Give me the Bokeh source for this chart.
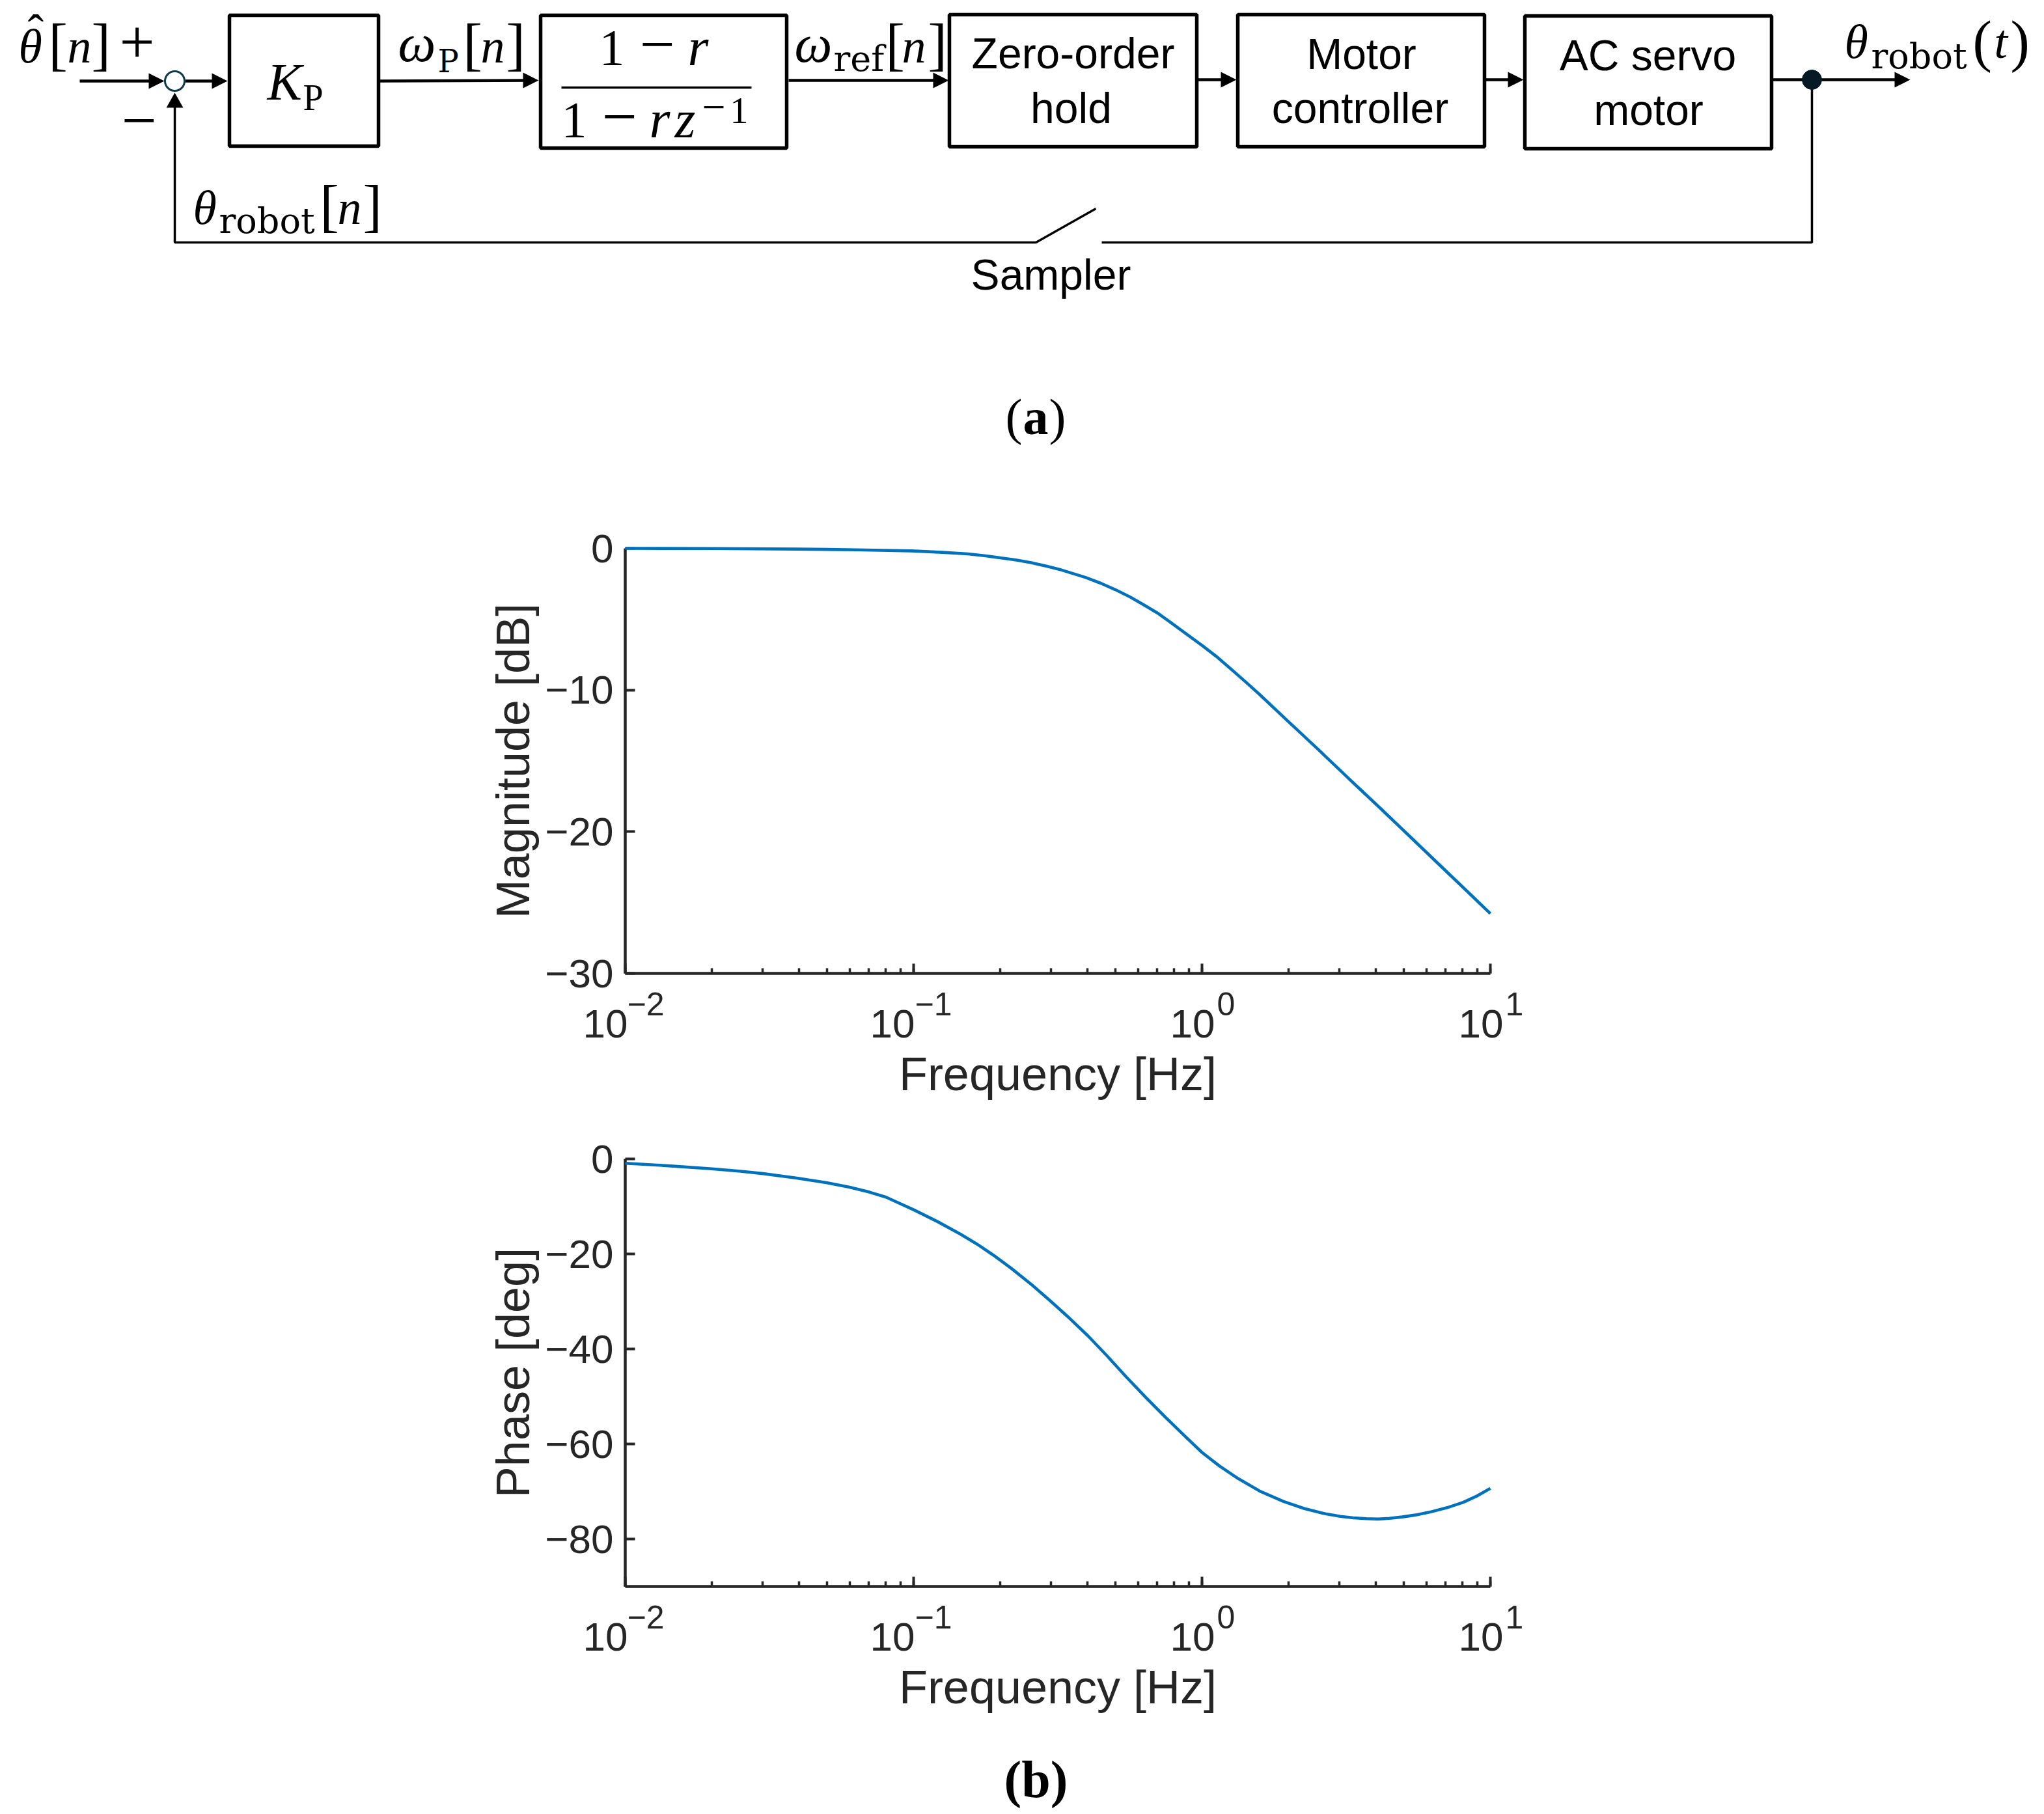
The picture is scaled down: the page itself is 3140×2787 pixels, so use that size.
from bokeh.core.properties import value
from bokeh.embed import file_html
from bokeh.layouts import column
from bokeh.models import ColumnDataSource, FixedTicker, Range1d
from bokeh.plotting import figure
from bokeh.resources import INLINE
import numpy as np

# ---------- Bode data ----------
mag_log10_hz = [-2.0, -1.7, -1.4, -1.2, -1.007, -0.9, -0.812, -0.75, -0.696, -0.65, -0.595, -0.54, -0.488, -0.404,
                -0.35, -0.300, -0.25, -0.203, -0.15, -0.100, -0.05, 0.001, 0.05, 0.095, 0.15, 0.198, 0.302, 0.406,
                0.509, 0.613, 0.717, 0.820, 0.911, 1.0]
mag_db = [0.0, -0.01, -0.05, -0.10, -0.18, -0.28, -0.39, -0.53, -0.68, -0.80, -1.00, -1.25, -1.52, -2.05,
          -2.47, -2.92, -3.42, -3.97, -4.62, -5.36, -6.10, -6.86, -7.63, -8.42, -9.40, -10.28, -12.27, -14.25,
          -16.25, -18.24, -20.26, -22.27, -24.04, -25.78]
phase_log10_hz = [-2.0, -1.85, -1.700, -1.6, -1.522, -1.401, -1.303, -1.222, -1.153, -1.096, -1.0, -0.917, -0.836,
                  -0.781, -0.72, -0.660, -0.59, -0.527, -0.46, -0.394, -0.33, -0.261, -0.195, -0.128, -0.06, 0.0,
                  0.06, 0.126, 0.2, 0.283, 0.355, 0.428, 0.48, 0.525, 0.57, 0.610, 0.65, 0.694, 0.74,
                  0.791, 0.85, 0.906, 0.955, 1.0]
phase_deg = [-0.92, -1.45, -2.10, -2.6, -3.10, -4.08, -5.00, -5.95, -7.00, -8.05, -10.7, -13.2, -15.9,
             -17.9, -20.4, -23.1, -26.5, -29.84, -33.5, -37.33, -41.4, -45.99, -50.2, -54.29, -58.3, -61.78,
             -64.6, -67.3, -69.9, -72.1, -73.6, -74.7, -75.25, -75.55, -75.72, -75.8, -75.65, -75.36, -74.95,
             -74.33, -73.4, -72.27, -70.9, -69.34]
x_tick_hz = [0.01, 0.1, 1, 10]
x_tick_exponents = ["\u22122", "\u22121", "0", "1"]
mag_ticks = [0, -10, -20, -30]
phase_ticks = [0, -20, -40, -60, -80]

W = 3136
LEFT = 960
RIGHT = 847
SANS = "Liberation Sans"
SERIF = "Liberation Serif"
DARK = "#262626"
BLUE = "#0072BD"
# Bokeh centres "alphabetic" text on its anchor: distance, in em, from that anchor to the real baseline
BASELINE_SHIFT = {SANS: 0.36, SERIF: 0.335, "DejaVu Serif": 0.35}


def bode(height, top, bottom, xs, ys, ylim, yticks, ylabel):
    p = figure(width=W, height=height, x_axis_type="log", output_backend="svg", toolbar_location=None,
               x_range=Range1d(0.01, 10), y_range=Range1d(*ylim),
               min_border_left=LEFT, min_border_right=RIGHT, min_border_top=top, min_border_bottom=bottom,
               x_axis_label="Frequency [Hz]", y_axis_label=ylabel)
    p.frame_align = False
    p.outline_line_color = None
    p.grid.visible = False
    p.background_fill_color = None
    p.border_fill_color = None
    for ax in (p.xaxis[0], p.yaxis[0]):
        ax.axis_line_color = DARK
        ax.axis_line_width = 4.5
        ax.major_tick_line_color = DARK
        ax.major_tick_line_width = 4
        ax.minor_tick_line_color = DARK
        ax.minor_tick_line_width = 3.5
        ax.major_tick_in = 15
        ax.major_tick_out = 0
        ax.minor_tick_in = 8
        ax.minor_tick_out = 0
        ax.axis_label_text_font = SANS
        ax.axis_label_text_font_size = "72px"
        ax.axis_label_text_font_style = "normal"
        ax.axis_label_text_color = DARK
        ax.major_label_text_font = SANS
        ax.major_label_text_color = DARK
    p.xaxis[0].major_label_text_font_size = "1px"
    p.xaxis[0].major_label_text_color = None
    p.xaxis[0].major_label_standoff = 0
    p.xaxis[0].axis_label_standoff = 114
    p.yaxis[0].ticker = FixedTicker(ticks=yticks)
    p.yaxis[0].major_label_overrides = {t: str(t).replace("-", "\u2212") for t in yticks}
    p.yaxis[0].major_label_text_font_size = "62px"
    p.yaxis[0].major_label_standoff = 18
    p.yaxis[0].axis_label_standoff = 6

    base_src = ColumnDataSource(dict(x=x_tick_hz, y=[ylim[0]] * 4, t=["10"] * 4, dx=[4, 2, 20, 20]))
    p.text(x="x", y="y", text="t", x_offset="dx", y_offset=77, source=base_src, text_align="right",
           text_baseline="alphabetic", text_font=value(SANS), text_font_size="62px", text_color=DARK, level="annotation")
    exp_src = ColumnDataSource(dict(x=x_tick_hz, y=[ylim[0]] * 4, t=x_tick_exponents, dx=[3, 2, 23, 23]))
    p.text(x="x", y="y", text="t", x_offset="dx", y_offset=47, source=exp_src, text_align="left",
           text_baseline="alphabetic", text_font=value(SANS), text_font_size="50px", text_color=DARK, level="annotation")
    p.line(10 ** np.array(xs), ys, line_color=BLUE, line_width=4.6, level="annotation")
    return p


def canvas(y0, y1):
    p = figure(width=W, height=y1 - y0, output_backend="svg", toolbar_location=None,
               x_range=Range1d(0, W), y_range=Range1d(y1, y0), min_border=0)
    p.frame_align = False
    p.axis.visible = False
    p.grid.visible = False
    p.outline_line_color = None
    p.background_fill_color = None
    p.border_fill_color = None
    return p


# ---------- block diagram ----------
d = canvas(0, 760)


def txt(p, s, x, y, size, font=SERIF, style="normal", align="left"):
    p.text([x], [y - BASELINE_SHIFT[font] * size], text=[s], text_font=value(font), text_font_size=f"{size}px",
           text_font_style=style, text_align=align, text_baseline="alphabetic", text_color="black", level="annotation")


boxes = [(352, 581, 23, 224), (830, 1208, 23, 227), (1458, 1838, 22, 225), (1901, 2280, 22, 225), (2342, 2721, 24, 228)]
d.quad(left=[b[0] for b in boxes], right=[b[1] for b in boxes], top=[b[2] for b in boxes], bottom=[b[3] for b in boxes],
       fill_color=None, line_color="black", line_width=5.5, level="annotation")

wires = [
    ([122, 240], [124, 124]), ([284, 335], [124, 124]), ([583, 815], [124, 123]), ([1211, 1445], [123, 123]),
    ([1840, 1887], [122, 122]), ([2282, 2328], [122, 122]), ([2723, 2920], [122, 122]),
    ([2783, 2783, 1692], [122, 372, 372]), ([1683, 1591, 268, 268], [320, 372, 372, 160]),
    ([862, 1154], [134, 134]),
]
d.multi_line([w[0] for w in wires[:7]], [w[1] for w in wires[:7]], line_color="black", line_width=4.5, level="annotation")
d.multi_line([w[0] for w in wires[7:]], [w[1] for w in wires[7:]], line_color="black", line_width=3.5, level="annotation")

heads = [(252, 124), (349, 124), (827, 123), (1457, 123), (1899, 122), (2340, 122), (2934, 122)]
d.patches([[x - 24, x, x - 24] for x, y in heads], [[y - 12, y, y + 12] for x, y in heads], fill_color="black", line_color=None, level="annotation")
d.patch([255, 268, 281], [165, 142, 165], fill_color="black", line_color=None, level="annotation")
d.scatter([268], [124], size=30, marker="circle", fill_color="white", line_color="#0f3a4a", line_width=3, level="annotation")
d.scatter([2783], [122], size=30, marker="circle", fill_color="#051a24", line_color="#051a24", line_width=1, level="annotation")

# left input
txt(d, "\u03b8", 28, 95, 74, style="italic")
txt(d, "\u02c6", 42, 73, 74)
txt(d, "[", 74, 97, 88)
txt(d, "n", 103, 95, 74, style="italic")
txt(d, "]", 140, 97, 88)
txt(d, "+", 183, 96, 96)
txt(d, "\u2212", 186, 217, 96)
# K_P
txt(d, "K", 410, 152, 80, style="italic")
txt(d, "P", 465, 168, 56)
# omega_P[n]
txt(d, "\u03c9", 611, 93, 82, style="italic")
txt(d, "P", 672, 110, 48, font="DejaVu Serif")
txt(d, "[", 711, 97, 88)
txt(d, "n", 738, 95, 74, style="italic")
txt(d, "]", 777, 97, 88)
# fraction
txt(d, "1", 920, 99, 78)
txt(d, "\u2212", 982, 100, 96)
txt(d, "r", 1056, 99, 82, style="italic")
txt(d, "1", 862, 210, 78)
txt(d, "\u2212", 924, 211, 96)
txt(d, "r", 997, 210, 82, style="italic")
txt(d, "z", 1036, 210, 82, style="italic")
txt(d, "\u2212", 1078, 186, 64)
txt(d, "1", 1121, 188, 56)
# omega_ref[n]
txt(d, "\u03c9", 1220, 94, 82, style="italic")
txt(d, "ref", 1280, 109, 54, font="DejaVu Serif")
txt(d, "[", 1360, 97, 88)
txt(d, "n", 1385, 95, 74, style="italic")
txt(d, "]", 1425, 97, 88)
# blocks
for s, x, y in [("Zero-order", 1648, 105), ("hold", 1645, 189), ("Motor", 2091, 106), ("controller", 2089, 189),
                ("AC servo", 2531, 108), ("motor", 2532, 192), ("Sampler", 1614, 445)]:
    txt(d, s, x, y, 66, font=SANS, align="center")
# theta_robot(t)
txt(d, "\u03b8", 2833, 88, 74, style="italic")
txt(d, "robot", 2874, 105, 54, font="DejaVu Serif")
txt(d, "(", 3030, 92, 88)
txt(d, "t", 3063, 88, 74, style="italic")
txt(d, ")", 3088, 92, 88)
# theta_robot[n]
txt(d, "\u03b8", 296, 343, 74, style="italic")
txt(d, "robot", 336, 358, 54, font="DejaVu Serif")
txt(d, "[", 491, 345, 88)
txt(d, "n", 518, 343, 74, style="italic")
txt(d, "]", 557, 345, 88)
# (a)
txt(d, "(", 1544, 666, 78)
txt(d, "a", 1571, 666, 78, style="bold")
txt(d, ")", 1611, 666, 78)

# ---------- Bode plots ----------
mag = bode(950, 842 - 760, 1710 - 1495, mag_log10_hz, mag_db, (-30, 0), mag_ticks, "Magnitude [dB]")
phase = bode(980, 1780 - 1710, 2690 - 2437, phase_log10_hz, phase_deg, (-90, 0), phase_ticks, "Phase [deg]")

tail = canvas(2690, 2785)
txt(tail, "(b)", 1591, 2760, 80, style="bold", align="center")

page = column(d, mag, phase, tail, spacing=0)
open("out.html", "w").write(file_html(page, INLINE))
